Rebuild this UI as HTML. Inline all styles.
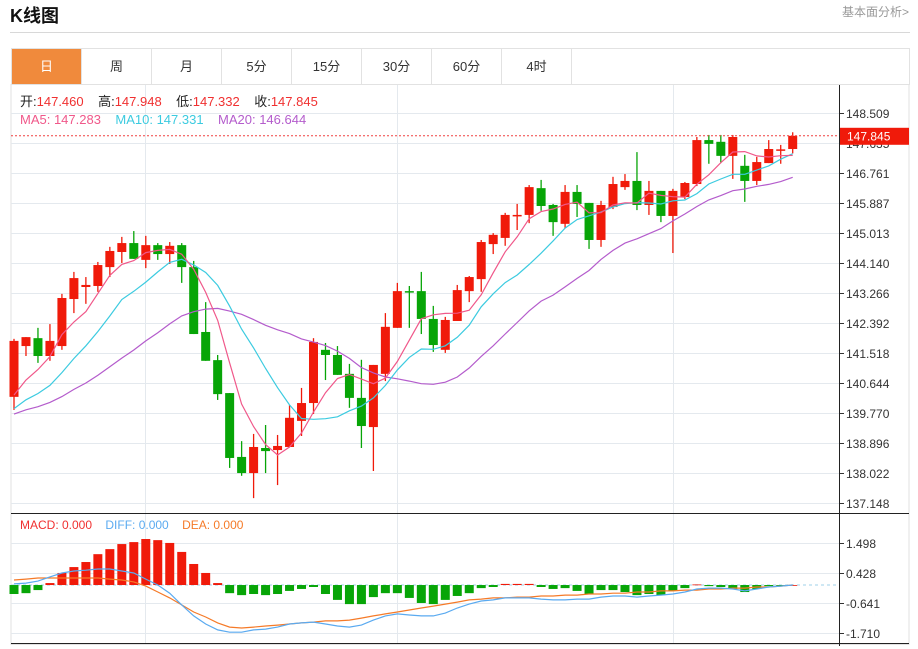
<!DOCTYPE html>
<html><head><meta charset="utf-8"><style>
body{margin:0;width:918px;height:649px;background:#fff;font-family:"Liberation Sans","Noto Sans CJK SC",sans-serif;overflow:hidden;position:relative}
.title{position:absolute;left:10px;top:2px;font-size:18px;font-weight:bold;color:#111}
.more{position:absolute;left:842px;top:3px;font-size:12px;color:#999}
.hline{position:absolute;left:10px;top:32px;width:900px;height:1px;background:#d8d8d8}
.tabs{position:absolute;left:11px;top:48px;width:897px;height:35px;border:1px solid #e2e2e2;border-bottom:1px solid #e2e2e2;display:flex}
.tab{width:69px;border-right:1px solid #e2e2e2;text-align:center;line-height:35px;font-size:13px;color:#333}
.tab.on{background:#f08a3c;color:#fff}
svg{position:absolute;left:0;top:0}
</style></head><body>
<div class="title">K线图</div>
<div class="more">基本面分析&gt;</div>
<div class="hline"></div>
<div class="tabs">
<div class="tab on">日</div>
<div class="tab">周</div>
<div class="tab">月</div>
<div class="tab">5分</div>
<div class="tab">15分</div>
<div class="tab">30分</div>
<div class="tab">60分</div>
<div class="tab">4时</div>
</div>
<svg id="chart" width="918" height="649"></svg>
<script>
const opens=[140.24,141.72,141.95,141.43,141.72,143.09,143.44,143.47,144.02,144.46,144.72,144.23,144.66,144.40,144.66,144.02,142.13,141.31,140.35,138.49,138.02,138.75,138.69,138.78,139.54,140.06,141.61,141.46,140.91,140.21,139.36,140.91,142.25,143.32,143.32,142.51,141.61,142.45,143.32,143.67,144.69,144.87,145.51,145.54,146.32,145.83,145.28,146.21,145.89,144.81,145.77,146.35,146.53,145.83,146.24,145.51,146.06,146.44,147.72,147.67,147.26,146.97,146.53,147.05,147.43,147.46];
const highs=[141.93,141.98,142.25,142.36,143.24,143.88,143.73,144.17,144.61,144.90,145.07,144.93,144.72,144.75,144.72,144.20,143.00,141.46,140.35,138.95,139.16,139.42,139.13,140.00,140.50,141.95,141.81,141.72,141.20,141.32,141.17,142.68,143.56,143.47,143.88,142.89,142.57,143.50,143.76,144.81,145.01,145.60,145.86,146.41,146.56,145.86,146.41,146.41,145.89,145.95,146.65,146.73,147.37,146.53,146.24,146.30,146.50,147.81,147.87,147.87,147.87,147.29,147.23,147.72,147.58,147.948];
const lows=[139.86,141.43,141.23,141.29,141.61,142.68,142.95,143.30,143.73,144.14,144.26,143.99,144.23,144.11,143.56,142.07,141.29,140.15,138.17,137.94,137.29,138.02,137.67,138.78,139.10,139.74,140.73,140.88,139.92,138.75,138.08,140.70,142.25,142.25,142.07,141.55,141.52,142.45,143.00,143.30,144.40,144.64,145.10,145.30,145.66,144.93,145.16,145.48,144.55,144.61,145.71,146.27,145.68,145.54,145.33,144.43,146.00,146.38,147.03,147.05,146.59,145.92,146.41,147.05,147.03,147.332];
const closes=[141.87,141.98,141.43,141.87,143.12,143.70,143.50,144.08,144.49,144.72,144.26,144.66,144.40,144.64,144.02,142.07,141.29,140.32,138.46,138.02,138.78,138.66,138.81,139.63,140.06,141.84,141.46,140.88,140.21,139.39,141.17,142.28,143.32,143.29,142.51,141.75,142.48,143.35,143.73,144.75,144.96,145.54,145.54,146.35,145.80,145.33,146.21,145.86,144.81,145.83,146.44,146.53,145.83,146.24,145.51,146.24,146.47,147.72,147.61,147.26,147.81,146.53,147.08,147.46,147.45,147.845];
const priorCloses=[139.5,139.6,139.4,139.7,139.5,139.8,139.6,139.5,139.7,139.5,139.4,139.6,139.5,139.4,139.6,139.8,139.9,140.0,139.9];
const macdHist=[-0.32,-0.29,-0.18,0.07,0.43,0.64,0.82,1.10,1.28,1.46,1.53,1.64,1.60,1.50,1.18,0.75,0.43,0.07,-0.29,-0.36,-0.32,-0.36,-0.32,-0.21,-0.14,-0.07,-0.32,-0.53,-0.68,-0.68,-0.43,-0.29,-0.29,-0.46,-0.64,-0.68,-0.53,-0.39,-0.29,-0.11,-0.07,0.04,0.04,0.04,-0.07,-0.14,-0.11,-0.21,-0.32,-0.18,-0.18,-0.25,-0.36,-0.32,-0.36,-0.21,-0.11,0.02,-0.04,-0.07,-0.14,-0.25,-0.14,-0.04,-0.04,0];
const diffVals=[0.04,0.07,0.14,0.29,0.43,0.50,0.53,0.57,0.57,0.50,0.43,0.21,0,-0.29,-0.71,-1.10,-1.39,-1.60,-1.68,-1.68,-1.60,-1.57,-1.50,-1.39,-1.35,-1.32,-1.39,-1.46,-1.50,-1.43,-1.25,-1.10,-1.03,-1.07,-1.10,-1.10,-1.00,-0.82,-0.68,-0.57,-0.53,-0.46,-0.46,-0.46,-0.50,-0.53,-0.53,-0.50,-0.50,-0.43,-0.39,-0.39,-0.43,-0.39,-0.36,-0.32,-0.25,-0.14,-0.11,-0.11,-0.14,-0.21,-0.14,-0.07,-0.04,0];
const deaVals=[0.18,0.21,0.25,0.25,0.25,0.25,0.25,0.25,0.21,0.18,0.11,-0.04,-0.25,-0.46,-0.71,-0.96,-1.14,-1.35,-1.50,-1.53,-1.50,-1.46,-1.43,-1.39,-1.35,-1.32,-1.28,-1.28,-1.25,-1.18,-1.10,-1.03,-0.96,-0.89,-0.82,-0.75,-0.68,-0.61,-0.53,-0.50,-0.46,-0.46,-0.43,-0.43,-0.39,-0.39,-0.36,-0.36,-0.32,-0.32,-0.29,-0.29,-0.25,-0.25,-0.21,-0.21,-0.18,-0.18,-0.14,-0.14,-0.11,-0.11,-0.07,-0.07,-0.04,0];
const priceTicks=["148.509","147.635","146.761","145.887","145.013","144.140","143.266","142.392","141.518","140.644","139.770","138.896","138.022","137.148"];
const macdTicks=["1.498","0.428","-0.641","-1.710"];

const NS="http://www.w3.org/2000/svg";
const svg=document.getElementById('chart');
function mk(tag,attrs,parent){const e=document.createElementNS(NS,tag);for(const k in attrs)e.setAttribute(k,attrs[k]);(parent||svg).appendChild(e);return e;}
const L=11,R=839,RR=909;
const xOf=i=>14+i*11.98;
const pTop=parseFloat(priceTicks[0]),pBot=parseFloat(priceTicks[priceTicks.length-1]);
const yP=p=>113+(pTop-p)*(503-113)/(pTop-pBot);
const mTop=parseFloat(macdTicks[0]),mBot=parseFloat(macdTicks[macdTicks.length-1]);
const yM=v=>543+(mTop-v)*(633-543)/(mTop-mBot);
const RED="#f01a0a",GREEN="#07a507";

// frame
let f=mk('rect',{x:L,y:84.5,width:RR-L,height:560,fill:'none',stroke:'#e2e2e2'});

// vertical grid
[145,397,673].forEach(x=>{const g=mk('line',{x1:x+.5,x2:x+.5,y1:85,y2:643,stroke:'#e4e9ee'});
});
// price grid & labels
priceTicks.forEach(t=>{const y=Math.round(yP(parseFloat(t)))+.5;
const g=mk('line',{x1:L,x2:R,y1:y,y2:y,stroke:'#e4e9ee'});
mk('line',{x1:R,x2:R+5,y1:y,y2:y,stroke:'#333'});
const tx=mk('text',{x:R+7,y:y+4.5,'font-size':12,fill:'#333','font-family':'Liberation Sans, sans-serif'});tx.textContent=t;
});
macdTicks.forEach(t=>{const y=Math.round(yM(parseFloat(t)))+.5;
const g=mk('line',{x1:L,x2:R,y1:y,y2:y,stroke:'#e4e9ee'});
mk('line',{x1:R,x2:R+5,y1:y,y2:y,stroke:'#333'});
const tx=mk('text',{x:R+7,y:y+4.5,'font-size':12,fill:'#333','font-family':'Liberation Sans, sans-serif'});tx.textContent=t;
});
// axis lines
let a=mk('line',{x1:R+.5,x2:R+.5,y1:85,y2:646,stroke:'#222'});
a=mk('line',{x1:L,x2:RR,y1:513.5,y2:513.5,stroke:'#222'});
a=mk('line',{x1:L,x2:RR,y1:643.5,y2:643.5,stroke:'#222'});

// candles
const candles=mk('g',{});
for(let i=0;i<closes.length;i++){
 const x=xOf(i),up=closes[i]>=opens[i],c=up?RED:GREEN;
 const g=mk('g',{},candles);
 
 
 mk('line',{x1:x,x2:x,y1:yP(highs[i]),y2:yP(lows[i]),stroke:c,'stroke-width':1.3},g);
 const t=yP(Math.max(opens[i],closes[i])),b=yP(Math.min(opens[i],closes[i]));
 mk('rect',{x:x-4.5,y:t,width:9,height:Math.max(1.5,b-t),fill:c},g);
}
// MAs
const all=priorCloses.concat(closes);
function ma(n){return closes.map((_,i)=>{const j=i+priorCloses.length;let s=0;for(let k=j-n+1;k<=j;k++)s+=all[k];return s/n;});}
function line(vals,yf,color,name){const p=mk('polyline',{points:vals.map((v,i)=>xOf(i).toFixed(1)+','+yf(v).toFixed(1)).join(' '),fill:'none',stroke:color,'stroke-width':1.2});
return p;}
const ma5=ma(5),ma10=ma(10),ma20=ma(20);
line(ma20,yP,'#b45ccc','ma20-line');
line(ma10,yP,'#3ccbe0','ma10-line');
line(ma5,yP,'#f0588a','ma5-line');
// last price line + label
const lp=yP(closes[closes.length-1]);
a=mk('line',{x1:L,x2:R,y1:lp,y2:lp,stroke:'#f04040','stroke-dasharray':'2,2'});
a=mk('rect',{x:R+1,y:lp-8,width:RR-R-1,height:17,fill:RED});
a=mk('text',{x:R+8,y:lp+4.5,'font-size':12,fill:'#fff','font-family':'Liberation Sans, sans-serif'});a.textContent=closes[closes.length-1].toFixed(3);


// MACD
const z=yM(0);
a=mk('line',{x1:L,x2:R,y1:z,y2:z,stroke:'#bfe0f0','stroke-dasharray':'3,3','stroke-width':1.5});
const hg=mk('g',{});
macdHist.forEach((v,i)=>{const y=yM(v);const r=mk('rect',{x:xOf(i)-4.5,y:Math.min(y,z),width:9,height:Math.max(0.8,Math.abs(y-z)),fill:v>=0?RED:GREEN},hg);

});
line(deaVals,yM,'#f57a28','dea-line');
line(diffVals,yM,'#5aaaf0','diff-line');

// legends
function txt(parts,x,y,fs,name){const t=mk('text',{x:x,y:y,'font-size':fs,'font-family':'Liberation Sans, Noto Sans CJK SC, sans-serif'});
parts.forEach(([s,c])=>{const sp=mk('tspan',{fill:c},t);sp.textContent=s;});}
txt([['开:','#222'],['147.460  ','#f03030'],['  高:','#222'],['147.948  ','#f03030'],['  低:','#222'],['147.332  ','#f03030'],['  收:','#222'],['147.845','#f03030']],20,106,13,'ohlc-legend');
txt([['MA5: 147.283  ','#f0588a'],['  MA10: 147.331  ','#3ccbe0'],['  MA20: 146.644','#b45ccc']],20,124,13,'ma-legend');
txt([['MACD: 0.000  ','#f03030'],['  DIFF: 0.000  ','#5aaaf0'],['  DEA: 0.000','#f57a28']],20,529,12,'macd-legend');
document.querySelectorAll('text').forEach(t=>t.setAttribute('xml:space','preserve'));
document.querySelectorAll('text').forEach(t=>t.style.whiteSpace='pre');
</script>
</body></html>
